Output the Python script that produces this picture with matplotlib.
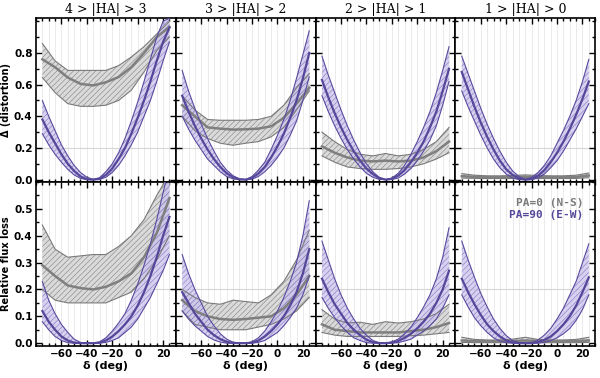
import matplotlib
matplotlib.use("Agg")
import matplotlib.pyplot as plt
from matplotlib.ticker import MultipleLocator

# declination grids (deg)
dec_fine = [-75, -70, -65, -60, -55, -50, -45, -40, -35, -30, -25,
            -20, -15, -10, -5, 0, 5, 10, 15, 20, 25]
dec_coarse = [-75, -65, -55, -45, -35, -25, -15, -5, 5, 15, 25]
dec_ticks = [-60, -40, -20, 0, 20]

ha_titles = ["4 > |HA| > 3", "3 > |HA| > 2", "2 > |HA| > 1", "1 > |HA| > 0"]
row_labels = ["\u0394 (distortion)", "Relative flux loss"]
legend_labels = ["PA=0 (N-S)", "PA=90 (E-W)"]

# PA=0 (N-S), distortion, one list per HA bin (on dec_coarse)
ns_dist_hi = [
    [0.86, 0.75, 0.69, 0.69, 0.69, 0.69, 0.72, 0.775, 0.84, 0.92, 1.0],
    [0.53, 0.44, 0.38, 0.375, 0.375, 0.375, 0.38, 0.40, 0.47, 0.58, 0.67],
    [0.30, 0.24, 0.19, 0.16, 0.15, 0.165, 0.15, 0.16, 0.19, 0.24, 0.33],
    [0.038, 0.028, 0.024, 0.024, 0.026, 0.03, 0.026, 0.024, 0.024, 0.028, 0.042],
]
ns_dist_mid = [
    [0.76, 0.71, 0.645, 0.605, 0.595, 0.615, 0.648, 0.71, 0.80, 0.90, 0.965],
    [0.47, 0.40, 0.33, 0.322, 0.316, 0.318, 0.322, 0.337, 0.39, 0.48, 0.58],
    [0.21, 0.17, 0.14, 0.12, 0.115, 0.12, 0.115, 0.12, 0.14, 0.18, 0.24],
    [0.022, 0.017, 0.015, 0.015, 0.016, 0.018, 0.016, 0.015, 0.015, 0.017, 0.026],
]
ns_dist_lo = [
    [0.645, 0.55, 0.48, 0.463, 0.463, 0.47, 0.50, 0.565, 0.68, 0.815, 0.90],
    [0.40, 0.31, 0.26, 0.23, 0.217, 0.23, 0.24, 0.27, 0.33, 0.44, 0.56],
    [0.15, 0.11, 0.08, 0.07, 0.065, 0.065, 0.07, 0.08, 0.10, 0.13, 0.17],
    [0.01, 0.008, 0.007, 0.007, 0.007, 0.008, 0.007, 0.007, 0.007, 0.008, 0.012],
]

# PA=90 (E-W), distortion (on dec_fine)
ew_dist_hi = [
    [0.50, 0.40, 0.31, 0.22, 0.15, 0.09, 0.045, 0.015, 0.002, 0.012, 0.05,
     0.10, 0.17, 0.26, 0.37, 0.49, 0.62, 0.76, 0.90, 1.0, 1.02],
    [0.69, 0.56, 0.45, 0.35, 0.26, 0.18, 0.11, 0.06, 0.025, 0.005, 0.0,
     0.02, 0.06, 0.11, 0.19, 0.28, 0.38, 0.50, 0.64, 0.79, 0.94],
    [0.78, 0.66, 0.55, 0.44, 0.34, 0.25, 0.17, 0.10, 0.05, 0.015, 0.0,
     0.01, 0.04, 0.09, 0.16, 0.24, 0.33, 0.43, 0.55, 0.69, 0.84],
    [0.78, 0.67, 0.56, 0.45, 0.35, 0.26, 0.18, 0.11, 0.055, 0.02, 0.0,
     0.015, 0.045, 0.09, 0.15, 0.23, 0.31, 0.40, 0.50, 0.62, 0.76],
]
ew_dist_mid = [
    [0.38, 0.30, 0.23, 0.16, 0.10, 0.055, 0.02, 0.003, 0.0, 0.005, 0.03,
     0.07, 0.13, 0.20, 0.29, 0.39, 0.50, 0.62, 0.75, 0.87, 0.96],
    [0.53, 0.43, 0.34, 0.26, 0.19, 0.13, 0.08, 0.04, 0.015, 0.002, 0.0,
     0.01, 0.04, 0.08, 0.14, 0.21, 0.29, 0.39, 0.50, 0.64, 0.80],
    [0.63, 0.52, 0.42, 0.33, 0.25, 0.18, 0.12, 0.07, 0.035, 0.01, 0.0,
     0.005, 0.025, 0.06, 0.11, 0.17, 0.24, 0.33, 0.43, 0.56, 0.70],
    [0.68, 0.57, 0.46, 0.36, 0.27, 0.19, 0.12, 0.065, 0.03, 0.007, 0.0,
     0.004, 0.025, 0.06, 0.11, 0.17, 0.24, 0.32, 0.41, 0.51, 0.62],
]
ew_dist_lo = [
    [0.29, 0.22, 0.16, 0.11, 0.065, 0.03, 0.008, 0.0, 0.0, 0.001, 0.015,
     0.045, 0.09, 0.15, 0.22, 0.30, 0.40, 0.50, 0.62, 0.75, 0.87],
    [0.40, 0.32, 0.25, 0.19, 0.13, 0.09, 0.05, 0.02, 0.005, 0.0, 0.0,
     0.003, 0.02, 0.05, 0.09, 0.14, 0.20, 0.28, 0.37, 0.50, 0.65],
    [0.53, 0.43, 0.34, 0.26, 0.19, 0.13, 0.08, 0.04, 0.015, 0.002, 0.0,
     0.001, 0.01, 0.035, 0.07, 0.12, 0.18, 0.25, 0.34, 0.47, 0.62],
    [0.56, 0.46, 0.37, 0.28, 0.20, 0.13, 0.075, 0.035, 0.01, 0.0, 0.0,
     0.0, 0.01, 0.035, 0.075, 0.12, 0.18, 0.25, 0.32, 0.40, 0.48],
]

# PA=0 (N-S), relative flux loss (on dec_coarse)
ns_loss_hi = [
    [0.44, 0.35, 0.32, 0.325, 0.33, 0.33, 0.36, 0.40, 0.46, 0.55, 0.63],
    [0.20, 0.17, 0.15, 0.145, 0.16, 0.155, 0.15, 0.18, 0.23, 0.31, 0.42],
    [0.125, 0.09, 0.075, 0.078, 0.07, 0.08, 0.075, 0.08, 0.09, 0.11, 0.145],
    [0.022, 0.014, 0.012, 0.012, 0.015, 0.022, 0.014, 0.012, 0.012, 0.014, 0.022],
]
ns_loss_mid = [
    [0.29, 0.25, 0.215, 0.205, 0.20, 0.21, 0.23, 0.26, 0.32, 0.41, 0.54],
    [0.16, 0.12, 0.10, 0.09, 0.087, 0.09, 0.095, 0.10, 0.13, 0.18, 0.25],
    [0.07, 0.05, 0.045, 0.04, 0.04, 0.04, 0.04, 0.045, 0.05, 0.06, 0.075],
    [0.01, 0.008, 0.007, 0.007, 0.008, 0.01, 0.008, 0.007, 0.007, 0.008, 0.01],
]
ns_loss_lo = [
    [0.20, 0.16, 0.15, 0.15, 0.15, 0.15, 0.17, 0.19, 0.24, 0.31, 0.40],
    [0.12, 0.07, 0.06, 0.05, 0.05, 0.05, 0.06, 0.07, 0.09, 0.12, 0.17],
    [0.04, 0.03, 0.025, 0.025, 0.025, 0.025, 0.025, 0.028, 0.03, 0.035, 0.04],
    [0.003, 0.002, 0.002, 0.002, 0.002, 0.003, 0.002, 0.002, 0.002, 0.002, 0.003],
]

# PA=90 (E-W), relative flux loss (on dec_fine)
ew_loss_hi = [
    [0.23, 0.16, 0.11, 0.07, 0.04, 0.015, 0.003, 0.0, 0.0, 0.005, 0.02,
     0.045, 0.075, 0.11, 0.16, 0.22, 0.29, 0.37, 0.46, 0.56, 0.66],
    [0.33, 0.26, 0.20, 0.15, 0.10, 0.065, 0.035, 0.015, 0.004, 0.0, 0.0,
     0.005, 0.02, 0.045, 0.08, 0.12, 0.17, 0.23, 0.30, 0.40, 0.53],
    [0.38, 0.31, 0.24, 0.18, 0.13, 0.09, 0.055, 0.03, 0.01, 0.002, 0.0,
     0.005, 0.015, 0.035, 0.06, 0.095, 0.135, 0.18, 0.24, 0.32, 0.43],
    [0.38, 0.31, 0.245, 0.185, 0.135, 0.09, 0.055, 0.028, 0.01, 0.002, 0.0,
     0.002, 0.012, 0.03, 0.055, 0.09, 0.13, 0.18, 0.23, 0.30, 0.37],
]
ew_loss_mid = [
    [0.12, 0.08, 0.05, 0.025, 0.01, 0.002, 0.0, 0.0, 0.0, 0.002, 0.01,
     0.025, 0.045, 0.07, 0.10, 0.14, 0.19, 0.25, 0.32, 0.40, 0.47],
    [0.19, 0.15, 0.11, 0.08, 0.05, 0.03, 0.015, 0.005, 0.001, 0.0, 0.0,
     0.002, 0.01, 0.025, 0.045, 0.07, 0.10, 0.14, 0.19, 0.26, 0.35],
    [0.24, 0.19, 0.145, 0.11, 0.075, 0.05, 0.03, 0.013, 0.004, 0.0, 0.0,
     0.002, 0.008, 0.02, 0.035, 0.055, 0.08, 0.11, 0.15, 0.20, 0.27],
    [0.24, 0.19, 0.145, 0.105, 0.07, 0.045, 0.025, 0.01, 0.003, 0.0, 0.0,
     0.0, 0.004, 0.012, 0.025, 0.045, 0.07, 0.10, 0.14, 0.19, 0.245],
]
ew_loss_lo = [
    [0.08, 0.05, 0.025, 0.01, 0.002, 0.0, 0.0, 0.0, 0.0, 0.0, 0.003,
     0.01, 0.02, 0.04, 0.06, 0.09, 0.13, 0.17, 0.22, 0.27, 0.33],
    [0.12, 0.09, 0.065, 0.045, 0.025, 0.012, 0.004, 0.0, 0.0, 0.0, 0.0,
     0.0, 0.003, 0.01, 0.025, 0.04, 0.065, 0.095, 0.13, 0.18, 0.25],
    [0.17, 0.13, 0.095, 0.065, 0.04, 0.02, 0.01, 0.002, 0.0, 0.0, 0.0,
     0.0, 0.002, 0.008, 0.015, 0.03, 0.045, 0.065, 0.09, 0.13, 0.18],
    [0.18, 0.135, 0.095, 0.065, 0.04, 0.02, 0.008, 0.002, 0.0, 0.0, 0.0,
     0.0, 0.0, 0.003, 0.01, 0.02, 0.035, 0.055, 0.085, 0.125, 0.18],
]

GRAY_FILL = "#dadada"
GRAY_HATCH = "#8a8a8a"
GRAY_EDGE = "#7a7a7a"
GRAY_LINE = "#7f7f7f"
PURP_FILL = "#cbc3ec"
PURP_HATCH = "#7566b8"
PURP_EDGE = "#5a4a9e"
PURP_LINE = "#56479a"

plt.rcParams["hatch.linewidth"] = 0.45

fig, axes = plt.subplots(2, 4, figsize=(6, 3.78), dpi=100, sharex=True)
fig.subplots_adjust(left=0.06, right=0.992, top=0.952, bottom=0.085,
                    wspace=0, hspace=0)


def band(ax, x, lo, mid, hi, fill, hatch, edge, line, lw, alpha):
    ax.fill_between(x, lo, hi, facecolor=fill, edgecolor=hatch, hatch="//////",
                    linewidth=0, alpha=alpha, zorder=2)
    ax.plot(x, lo, color=edge, lw=0.8, zorder=3)
    ax.plot(x, hi, color=edge, lw=0.8, zorder=3)
    ax.plot(x, mid, color=line, lw=lw, zorder=3)


rows = [
    (ns_dist_lo, ns_dist_mid, ns_dist_hi, ew_dist_lo, ew_dist_mid, ew_dist_hi),
    (ns_loss_lo, ns_loss_mid, ns_loss_hi, ew_loss_lo, ew_loss_mid, ew_loss_hi),
]

for r in range(2):
    nlo, nmid, nhi, elo, emid, ehi = rows[r]
    for c in range(4):
        ax = axes[r, c]
        band(ax, dec_coarse, nlo[c], nmid[c], nhi[c],
             GRAY_FILL, GRAY_HATCH, GRAY_EDGE, GRAY_LINE, 1.8, 1.0)
        band(ax, dec_fine, elo[c], emid[c], ehi[c],
             PURP_FILL, PURP_HATCH, PURP_EDGE, PURP_LINE, 1.6, 0.75)

        ax.set_xlim(-80, 30)
        ax.set_xticks(dec_ticks)
        ax.xaxis.set_minor_locator(MultipleLocator(5))
        for xv in range(-75, 30, 5):
            ax.axvline(xv, color="#e8e8e8", lw=0.6, zorder=0)
        ax.axhline(0.2, color="#d6d6d6", lw=0.8, zorder=0)

        if r == 0:
            ax.set_ylim(-0.015, 1.02)
            ax.set_yticks([0.0, 0.2, 0.4, 0.6, 0.8])
            ax.yaxis.set_minor_locator(MultipleLocator(0.1))
            ax.set_title(ha_titles[c], fontsize=9, family="DejaVu Serif", pad=4)
        else:
            ax.set_ylim(-0.01, 0.6)
            ax.set_yticks([0.0, 0.1, 0.2, 0.3, 0.4, 0.5])
            ax.yaxis.set_minor_locator(MultipleLocator(0.05))
            ax.set_xlabel("\u03b4 (deg)", fontsize=8, fontweight="bold", labelpad=1)

        ax.tick_params(which="both", direction="in", top=True, right=True,
                       width=1, labelsize=7.5, pad=2.5)
        ax.tick_params(which="major", length=4)
        ax.tick_params(which="minor", length=2)
        for lab in ax.get_xticklabels() + ax.get_yticklabels():
            lab.set_fontweight("bold")
        if c == 0:
            ax.set_ylabel(row_labels[r], fontsize=7, fontweight="bold", labelpad=2)
        else:
            ax.tick_params(labelleft=False)
        for s in ax.spines.values():
            s.set_linewidth(1.2)

axes[1, 3].text(0.915, 0.87, legend_labels[0], transform=axes[1, 3].transAxes,
                ha="right", va="center", color="#7a7a7a", fontsize=8,
                family="DejaVu Sans Mono", fontweight="bold")
axes[1, 3].text(0.915, 0.80, legend_labels[1], transform=axes[1, 3].transAxes,
                ha="right", va="center", color=PURP_LINE, fontsize=8,
                family="DejaVu Sans Mono", fontweight="bold")

fig.savefig("out.png", dpi=100)
